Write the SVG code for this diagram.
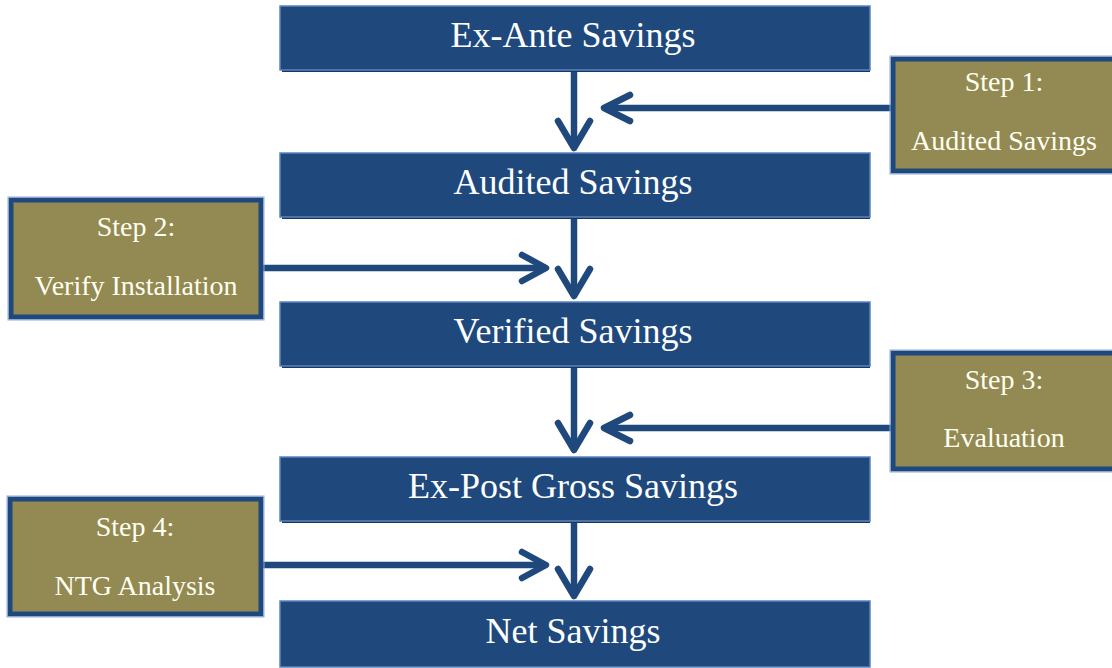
<svg xmlns="http://www.w3.org/2000/svg" width="1112" height="668" viewBox="0 0 1112 668">
<defs>
<style>
.main rect.b{fill:#1f497d;stroke:#5b84bd;stroke-width:1.5}
.main rect.s{fill:#17375e}
.main text{font-family:'Liberation Serif',serif;font-size:36px;fill:#ffffff;text-anchor:middle}
.step rect{fill:#938953;stroke:#1f497d;stroke-width:5}
.step rect.o{fill:none;stroke:#8eaadb;stroke-width:1}
.step text{font-family:'Liberation Serif',serif;font-size:28px;fill:#fffff2;text-anchor:middle}
.conn path{fill:none;stroke:#1f497d;stroke-width:6.5;stroke-linecap:round;stroke-linejoin:round}
.conn path.l{stroke-linecap:butt}
</style>
</defs>
<rect width="1112" height="668" fill="#ffffff"/>
<g id="connectors" class="conn">
<path class="l" d="M574 70 V148"/><path d="M558 121 L574 148 L590 121"/>
<path class="l" d="M892 108 H604"/><path d="M630 95 L604 108 L630 121"/>
<path class="l" d="M574 218 V296"/><path d="M558 269 L574 296 L590 269"/>
<path class="l" d="M261 268 H546"/><path d="M522 255 L546 268 L522 281"/>
<path class="l" d="M574 368 V450"/><path d="M558 423 L574 450 L590 423"/>
<path class="l" d="M892 428 H604"/><path d="M630 415 L604 428 L630 441"/>
<path class="l" d="M574 522 V596"/><path d="M558 569 L574 596 L590 569"/>
<path class="l" d="M261 565 H546"/><path d="M522 552 L546 565 L522 578"/>
</g>
<g id="ex-ante" class="main"><rect class="s" x="282" y="68" width="588" height="4"/><rect class="b" x="280" y="6" width="590" height="64"/><text x="573" y="47">Ex-Ante Savings</text></g>
<g id="audited" class="main"><rect class="s" x="282" y="215" width="588" height="4"/><rect class="b" x="280" y="153" width="590" height="64"/><text x="573" y="194">Audited Savings</text></g>
<g id="verified" class="main"><rect class="s" x="282" y="364" width="588" height="4"/><rect class="b" x="280" y="302" width="590" height="64"/><text x="573" y="343">Verified Savings</text></g>
<g id="ex-post" class="main"><rect class="s" x="282" y="519" width="588" height="4"/><rect class="b" x="280" y="457" width="590" height="64"/><text x="573" y="498">Ex-Post Gross Savings</text></g>
<g id="net" class="main"><rect class="b" x="280" y="601" width="590" height="66"/><text x="573" y="643">Net Savings</text></g>
<g id="step1" class="step"><rect x="893" y="59" width="222" height="112"/><rect class="o" x="890" y="56" width="228" height="118"/><text x="1004" y="91">Step 1:</text><text x="1004" y="150">Audited Savings</text></g>
<g id="step2" class="step"><rect x="11" y="200" width="250" height="117"/><rect class="o" x="8" y="197" width="256" height="123"/><text x="136" y="236">Step 2:</text><text x="136" y="295">Verify Installation</text></g>
<g id="step3" class="step"><rect x="893" y="353" width="222" height="116"/><rect class="o" x="890" y="350" width="228" height="122"/><text x="1004" y="389">Step 3:</text><text x="1004" y="447">Evaluation</text></g>
<g id="step4" class="step"><rect x="10" y="499" width="251" height="115"/><rect class="o" x="7" y="496" width="257" height="121"/><text x="135" y="536">Step 4:</text><text x="135" y="595">NTG Analysis</text></g>
</svg>
